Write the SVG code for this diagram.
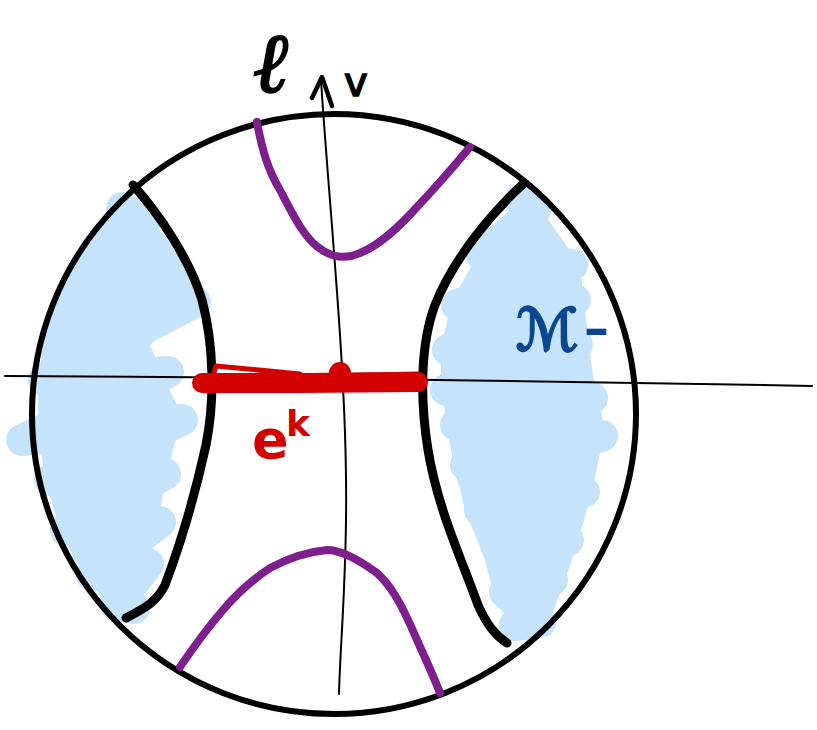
<svg xmlns="http://www.w3.org/2000/svg" width="817" height="730" viewBox="0 0 817 730">
<style>
.blue{fill:none;stroke:#c5e3fb;stroke-width:32;stroke-linecap:round;stroke-linejoin:round}
.bluefill{fill:#c5e3fb;stroke:none}
.axis{fill:none;stroke:#000;stroke-width:2;stroke-linecap:round}
.branch{fill:none;stroke:#000;stroke-width:9;stroke-linecap:round}
.purple{fill:none;stroke:#7d1f8c;stroke-width:8;stroke-linecap:round;stroke-linejoin:round}
.red{fill:none;stroke:#d30000;stroke-linecap:round;stroke-linejoin:round}
</style>
<rect width="817" height="730" fill="#fff"/>
<g id="region-left">
<path class="bluefill" d="M 118 205 L 145 212 L 180 255 L 198 300 L 150 345 L 165 380 L 182 415 L 168 470 L 158 520 L 142 565 L 128 605 L 108 605 L 80 570 L 60 530 L 45 480 L 38 430 L 38 380 L 45 335 L 60 285 L 90 240 Z"/>
<polyline class="blue" points="122,208 145,222 82,285 172,262 56,335 195,302 44,380 168,372 22,440 182,420 50,480 165,474 66,530 160,522 92,575 148,564 116,605 134,608"/>
</g>
<g id="region-right">
<path class="bluefill" d="M 520 198 L 545 215 L 580 265 L 585 310 L 592 370 L 605 430 L 590 500 L 572 560 L 552 615 L 538 638 L 515 630 L 495 600 L 485 560 L 465 510 L 455 470 L 447 430 L 442 390 L 440 350 L 452 300 L 478 255 Z"/>
<polyline class="blue" points="520,200 535,210 482,255 572,265 457,305 575,300 448,350 577,345 446,390 592,398 456,425 602,436 466,465 584,492 480,510 568,540 500,550 552,580 505,592 540,622 515,625"/>
</g>
<g id="sphere">
<ellipse cx="334" cy="414" rx="302" ry="300" fill="none" stroke="#000" stroke-width="6"/>
</g>
<g id="connectors">
<path class="axis" d="M 5 376 Q 400 378 812 386"/>
<path class="axis" d="M 321 80 C 330 220 348 380 346 520 C 345 600 340 650 339 694"/>
<path d="M 312 98 L 322 77 L 332 106" fill="none" stroke="#000" stroke-width="4.5" stroke-linecap="round" stroke-linejoin="round"/>
</g>
<g id="branch-left">
<path class="branch" d="M 133 185 C 160 215 190 260 202 300 C 214 345 215 400 206 445 C 195 495 182 540 165 585 C 155 605 140 610 126 618"/>
</g>
<g id="branch-right">
<path class="branch" d="M 523 184 C 495 210 455 255 435 305 C 420 345 420 400 428 450 C 438 510 462 560 478 605 C 487 625 495 635 507 643"/>
</g>
<g id="curve-top">
<path class="purple" d="M 257 122 C 262 150 268 170 280 190 C 293 215 305 240 322 250 C 333 257 345 260 360 253 C 380 245 398 228 417 207 C 435 188 455 165 470 147"/>
</g>
<g id="curve-bottom">
<path class="purple" d="M 180 667 C 195 645 210 625 223 610 C 240 590 255 578 270 568 C 285 560 305 552 327 550 C 340 550 355 557 377 573 C 390 585 400 600 417 640 C 427 662 435 680 440 693"/>
</g>
<g id="cell-ek">
<path class="red" stroke-width="20" d="M 202 383 L 300 383 L 418 382"/>
<path class="red" stroke-width="5" d="M 300 374 L 216 366 L 212 378 L 418 374"/>
<circle cx="340" cy="373" r="11" fill="#d30000"/>
<text x="252" y="458" font-family="DejaVu Sans, sans-serif" font-size="54" font-weight="bold" fill="#d30000">e</text>
<text x="286" y="436" font-family="DejaVu Sans, sans-serif" font-size="36" font-weight="bold" fill="#d30000">k</text>
</g>
<g id="labels">
<text x="253" y="92" font-family="DejaVu Serif, serif" font-size="84" font-style="italic" fill="#000" stroke="#000" stroke-width="2">ℓ</text>
<text x="344" y="96" font-family="DejaVu Sans, sans-serif" font-size="40" fill="#000" stroke="#000" stroke-width="1.5">v</text>
<text x="516" y="350" font-family="DejaVu Sans, sans-serif" font-size="58" fill="#0a4792" stroke="#0a4792" stroke-width="2.5">ℳ</text>
<text x="584" y="346" font-family="DejaVu Sans, sans-serif" font-size="50" font-weight="bold" fill="#0a4792">–</text>
</g>
</svg>
